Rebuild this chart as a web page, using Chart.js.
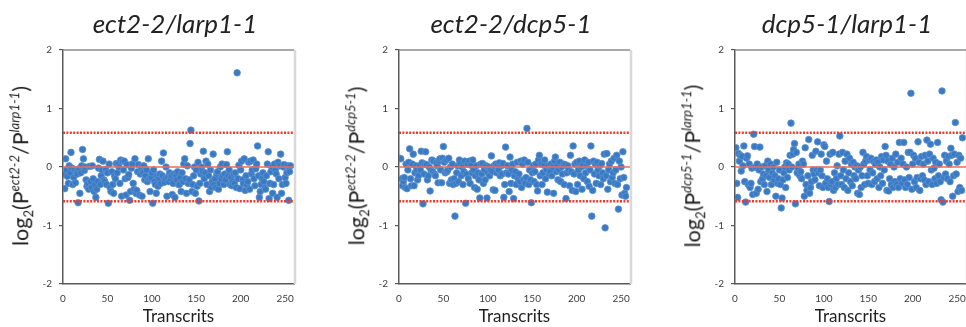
<!DOCTYPE html>
<html>
<head>
<meta charset="utf-8">
<script src="https://cdn.jsdelivr.net/npm/chart.js@4.4.1/dist/chart.umd.min.js"></script>
<style>
html,body{margin:0;padding:0;background:#fff;overflow:hidden;width:966px;height:327px}
#wrap{position:relative;width:1008px;height:327px}
.panel{position:absolute;top:0;width:336px;height:327px}
.panel canvas{position:absolute;left:0;top:0}
.ttl{position:absolute;top:8px;left:0;width:350px;text-align:center;font-family:Lato,sans-serif;font-style:italic;font-size:26px;line-height:30px;color:#222;white-space:nowrap}
.ytl{position:absolute;left:21px;top:166px;transform:translate(-50%,-50%) rotate(-90deg);font-family:Lato,sans-serif;font-size:21.5px;line-height:1;color:#1f1f1f;white-space:nowrap}
.ytl sub{font-size:13px;vertical-align:-5px;line-height:0}
.ytl sup{font-size:13px;font-style:italic;vertical-align:9px;line-height:0}
.xtl{position:absolute;left:0;width:357px;top:306px;text-align:center;font-family:Lato,sans-serif;font-size:17px;line-height:20px;color:#1f1f1f}
</style>
</head>
<body>
<div id="wrap">
  <div class="panel" style="left:0px">
    <canvas id="c1" width="336" height="327"></canvas>
    <div class="ttl">ect2-2/larp1-1</div>
    <div class="ytl">log<sub>2</sub>(P<sup>ect2-2</sup>/P<sup>larp1-1</sup>)</div>
    <div class="xtl">Transcrits</div>
  </div>
  <div class="panel" style="left:336px">
    <canvas id="c2" width="336" height="327"></canvas>
    <div class="ttl">ect2-2/dcp5-1</div>
    <div class="ytl">log<sub>2</sub>(P<sup>ect2-2</sup>/P<sup>dcp5-1</sup>)</div>
    <div class="xtl">Transcrits</div>
  </div>
  <div class="panel" style="left:672px">
    <canvas id="c3" width="336" height="327"></canvas>
    <div class="ttl">dcp5-1/larp1-1</div>
    <div class="ytl">log<sub>2</sub>(P<sup>dcp5-1</sup>/P<sup>larp1-1</sup>)</div>
    <div class="xtl">Transcrits</div>
  </div>
</div>
<script>
// ---- Data ----
const xTicks = [0, 50, 100, 150, 200, 250];
const yTicks = [-2, -1, 0, 1, 2];
const xMin = 0, xMax = 260;
const yMin = -2, yMax = 2;
const threshold = 0.585; // log2(1.5)

const ect2_larp1 = [
 -0.13,-0.37,0.14,-0.05,-0.16,-0.28,0.02,-0.1,0.25,-0.02,
 -0.3,-0.18,-0.05,-0.27,-0.08,-0.12,-0.61,-0.03,-0.45,-0.1,
 0.02,0.3,0.14,-0.06,0.0,-0.22,-0.33,-0.28,-0.38,0.01,
 -0.25,-0.35,0.02,-0.2,-0.42,-0.3,-0.52,-0.38,-0.25,-0.02,
 0.13,-0.3,-0.15,-0.05,0.1,-0.22,-0.25,-0.04,-0.3,-0.1,
 -0.62,0.05,-0.35,-0.42,-0.08,-0.3,-0.45,-0.15,-0.2,0.06,
 -0.1,0.05,0.0,-0.28,0.12,-0.5,0.1,-0.05,0.1,-0.2,
 -0.48,0.04,-0.18,-0.13,-0.57,-0.42,-0.02,0.05,-0.28,-0.38,
 0.14,-0.45,-0.4,-0.08,0.04,-0.48,-0.12,0.0,-0.5,-0.1,
 0.02,-0.22,-0.15,-0.05,-0.25,0.14,-0.2,-0.42,-0.18,-0.1,
 -0.62,-0.05,-0.25,-0.3,-0.45,-0.15,-0.33,-0.2,-0.12,-0.28,
 0.1,-0.15,0.24,-0.26,-0.2,0.0,-0.5,-0.18,-0.25,-0.1,
 -0.2,-0.15,-0.47,-0.28,-0.12,-0.52,-0.15,-0.22,-0.08,-0.3,
 -0.3,-0.18,-0.42,-0.1,-0.25,0.05,0.14,-0.2,-0.45,0.02,
 -0.28,-0.22,0.4,0.63,-0.42,-0.3,-0.15,0.0,-0.45,-0.05,
 -0.33,0.08,-0.58,-0.28,-0.12,0.0,-0.08,0.27,-0.2,-0.1,
 0.1,-0.3,0.05,-0.15,-0.42,-0.05,-0.35,-0.25,0.22,-0.3,
 -0.2,-0.35,-0.12,-0.08,-0.38,-0.28,0.0,-0.2,0.05,-0.15,
 -0.3,-0.12,-0.22,0.04,0.26,-0.15,-0.05,-0.3,-0.18,-0.32,
 -0.25,-0.12,-0.28,-0.1,-0.35,1.61,-0.2,0.03,-0.37,-0.05,
 0.1,-0.22,-0.28,0.14,-0.4,-0.15,-0.3,-0.25,0.08,-0.38,
 0.1,-0.12,-0.05,0.12,-0.2,-0.32,-0.03,0.05,0.36,-0.15,
 -0.52,-0.42,-0.3,-0.2,-0.1,-0.25,-0.35,-0.38,-0.15,0.05,
 0.26,-0.54,-0.28,-0.08,0.0,-0.45,-0.3,0.05,-0.05,-0.12,
 -0.52,0.08,-0.2,0.02,0.22,-0.45,-0.3,0.0,0.04,-0.18,
 -0.28,-0.1,0.02,-0.57,-0.08,0.02
];

const ect2_dcp5 = [
 0.15,0.14,-0.2,-0.32,-0.25,-0.18,-0.35,0.05,-0.37,-0.05,
 0.08,0.31,-0.2,-0.32,0.05,0.22,-0.32,-0.1,0.02,-0.05,
 -0.22,-0.15,0.02,-0.05,0.27,0.07,-0.63,-0.12,0.05,0.26,
 0.04,-0.22,-0.15,0.0,-0.41,-0.05,0.12,-0.08,0.1,-0.12,
 -0.15,0.08,0.02,-0.27,0.1,0.14,-0.05,-0.27,0.15,0.35,
 0.08,-0.1,0.12,-0.08,-0.05,0.15,-0.28,0.0,-0.22,0.05,
 -0.3,-0.2,-0.84,-0.28,-0.1,0.02,-0.25,0.12,0.05,-0.15,
 0.0,-0.3,-0.08,0.1,-0.62,-0.12,0.05,-0.2,0.1,-0.28,
 0.03,-0.1,0.12,-0.05,-0.35,-0.15,0.02,-0.38,-0.1,-0.22,
 -0.53,0.05,-0.12,0.06,-0.28,-0.05,-0.22,0.02,-0.53,-0.1,
 0.0,-0.15,-0.05,0.19,-0.08,-0.39,0.02,-0.4,0.05,-0.1,
 0.03,-0.05,0.07,-0.15,0.02,-0.12,0.06,-0.52,-0.3,0.34,
 -0.1,0.02,-0.12,-0.42,0.17,-0.28,-0.05,0.05,-0.54,-0.15,
 -0.08,-0.3,0.08,-0.2,-0.12,-0.25,0.1,-0.35,0.05,-0.22,
 0.12,-0.28,-0.18,0.66,0.08,-0.3,-0.05,-0.22,-0.61,-0.1,
 0.02,-0.25,-0.08,0.05,-0.3,-0.41,0.12,0.2,-0.15,0.05,
 -0.3,-0.1,0.03,0.12,-0.2,-0.05,-0.43,0.02,-0.12,-0.08,
 0.05,-0.15,0.0,-0.45,0.1,0.17,-0.08,0.02,-0.22,-0.05,
 0.08,-0.25,0.0,-0.12,0.05,-0.3,0.04,-0.54,-0.1,0.02,
 -0.05,-0.32,0.2,-0.08,-0.4,0.36,-0.12,0.05,-0.42,0.08,
 -0.3,-0.05,0.1,-0.15,0.0,-0.38,0.04,-0.2,0.12,-0.1,
 0.02,-0.25,0.08,-0.33,-0.05,0.36,-0.84,-0.4,0.1,-0.12,
 0.05,-0.28,0.08,-0.05,-0.15,0.02,-0.3,0.06,-0.1,-0.2,
 0.22,-1.04,-0.15,0.23,-0.38,-0.05,0.05,-0.25,0.1,-0.18,
 -0.1,0.15,-0.28,-0.05,0.2,-0.3,-0.72,0.1,-0.2,0.0,
 -0.48,0.26,-0.18,-0.45,-0.5,-0.35
];

const dcp5_larp1 = [
 0.33,-0.28,-0.52,0.23,0.1,0.2,-0.07,0.18,0.02,0.36,
 -0.25,-0.6,0.15,0.19,-0.3,0.05,-0.35,-0.28,-0.02,-0.47,
 0.56,0.35,0.0,-0.45,0.05,-0.38,-0.05,0.34,-0.25,0.0,
 -0.2,-0.12,-0.3,0.02,-0.15,-0.42,0.1,-0.05,-0.18,0.05,
 -0.3,-0.1,0.0,-0.22,-0.15,-0.5,0.08,-0.28,-0.2,-0.05,
 -0.3,-0.7,-0.53,-0.22,-0.1,0.0,-0.35,0.07,-0.18,0.05,
 -0.05,0.2,0.75,0.0,0.22,0.3,0.4,-0.63,0.25,-0.1,
 -0.02,0.05,-0.15,-0.08,-0.2,0.1,0.05,-0.5,0.33,-0.3,
 -0.4,-0.15,0.47,-0.45,-0.35,-0.25,0.2,-0.05,-0.12,-0.22,
 0.27,-0.05,0.43,-0.1,-0.32,-0.05,0.22,-0.15,-0.35,0.38,
 0.35,-0.28,0.1,-0.2,-0.35,-0.59,0.22,-0.3,-0.25,0.25,
 -0.4,-0.1,-0.35,-0.2,0.02,-0.3,0.22,0.53,-0.15,-0.3,
 0.25,-0.05,-0.35,0.1,-0.2,0.22,-0.4,-0.1,0.15,-0.25,
 0.05,-0.32,0.08,-0.15,0.0,-0.2,0.02,-0.45,-0.05,-0.47,
 0.0,-0.35,-0.15,0.25,0.05,-0.3,0.1,0.18,-0.15,-0.28,
 0.12,-0.05,0.15,-0.3,-0.1,0.1,-0.25,0.05,0.12,-0.2,
 0.08,-0.35,0.0,-0.15,0.18,-0.28,0.12,-0.05,0.35,0.2,
 -0.4,0.1,-0.41,-0.2,0.05,-0.3,0.15,-0.35,0.0,-0.25,
 0.22,-0.3,0.08,-0.35,0.42,-0.2,0.15,-0.28,0.05,0.42,
 -0.22,-0.35,0.0,-0.3,0.25,-0.18,0.25,1.26,-0.38,0.05,
 0.2,-0.25,0.15,-0.35,-0.18,0.43,0.08,-0.4,-0.2,0.18,
 -0.15,0.05,-0.22,0.2,-0.3,0.46,0.1,-0.25,0.22,0.39,
 -0.05,-0.3,0.15,-0.02,-0.2,0.08,-0.28,0.42,-0.15,0.05,
 -0.25,-0.56,1.3,-0.6,-0.18,0.2,-0.12,0.1,-0.2,0.18,
 0.05,-0.25,0.32,0.2,-0.5,-0.15,0.22,0.76,-0.12,0.08,
 -0.42,0.2,-0.35,0.15,-0.4,0.5
];

// ---- Styles ----
const pointFill = '#3A7AC4';
const pointEdge = '#5C93D0';
const zeroColor = '#F06A58';
const dotColor = '#EE3A2C';
const axisColor = '#5a5a5a';
const tickColor = '#404040';

const framePlugin = {
  id: 'frame',
  beforeDatasetsDraw(chart) {
    const {ctx, chartArea: a} = chart;
    ctx.save();
    ctx.strokeStyle = '#d9d9d9';
    ctx.lineWidth = 2.5;
    ctx.beginPath();
    ctx.moveTo(a.right + 1, a.top);
    ctx.lineTo(a.right + 1, a.bottom);
    ctx.stroke();
    ctx.strokeStyle = '#8c8c8c';
    ctx.lineWidth = 1.5;
    ctx.beginPath();
    ctx.moveTo(a.left, a.top);
    ctx.lineTo(a.right, a.top);
    ctx.stroke();
    ctx.restore();
  }
};

function refLine(y, color, width, dash) {
  return {
    type: 'line',
    data: [{x: xMin, y: y}, {x: xMax, y: y}],
    borderColor: color,
    borderWidth: width,
    borderDash: dash,
    pointRadius: 0,
    fill: false,
    order: 0
  };
}

function makeChart(id, values) {
  const pts = values.map((v, i) => ({x: i + 1, y: v}));
  return new Chart(document.getElementById(id), {
    type: 'scatter',
    data: {
      datasets: [
        {data: pts, backgroundColor: pointFill, borderColor: pointEdge, borderWidth: 0.8, pointRadius: 3.3, order: 2},
        refLine(0, zeroColor, 1.5, []),
        refLine(threshold, dotColor, 2.5, [2, 1.4]),
        refLine(-threshold, dotColor, 2.5, [2, 1.4])
      ]
    },
    options: {
      responsive: false,
      animation: false,
      devicePixelRatio: 1,
      layout: {padding: {left: 0, right: 42, top: 50, bottom: 0}},
      plugins: {legend: {display: false}, tooltip: {enabled: false}},
      scales: {
        x: {
          type: 'linear', min: xMin, max: xMax,
          afterBuildTicks: s => { s.ticks = xTicks.map(v => ({value: v})); },
          grid: {display: false, drawTicks: false},
          border: {display: true, color: axisColor, width: 1.5},
          ticks: {padding: 9, color: tickColor, font: {family: 'Lato', size: 10}, maxRotation: 0, autoSkip: false},
          afterFit: s => { s.height = 43; }
        },
        y: {
          type: 'linear', min: yMin, max: yMax,
          afterBuildTicks: s => { s.ticks = yTicks.map(v => ({value: v})); },
          grid: {drawOnChartArea: false, drawTicks: true, tickLength: 4, color: axisColor, lineWidth: 1.2},
          border: {display: true, color: axisColor, width: 1.5},
          ticks: {padding: 7, color: tickColor, font: {family: 'Lato', size: 10}},
          afterFit: s => { s.width = 63; }
        }
      }
    },
    plugins: [framePlugin]
  });
}

makeChart('c1', ect2_larp1);
makeChart('c2', ect2_dcp5);
makeChart('c3', dcp5_larp1);
</script>
</body>
</html>
